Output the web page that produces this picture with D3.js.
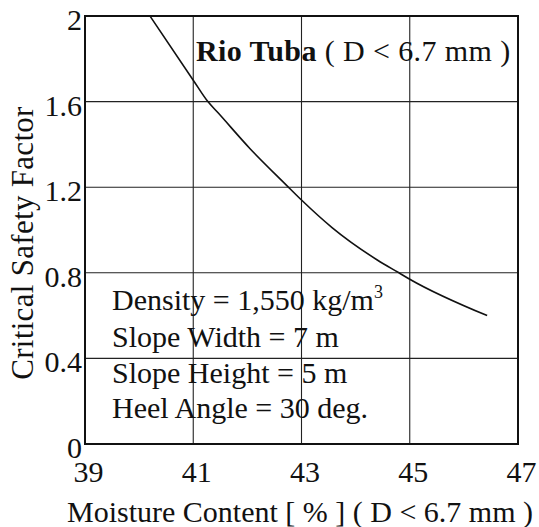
<!DOCTYPE html>
<html>
<head>
<meta charset="utf-8">
<script src="https://cdn.jsdelivr.net/npm/d3@7/dist/d3.min.js"></script>
<style>
  html, body { margin: 0; padding: 0; background: #fff; }
  svg text { font-family: "Liberation Serif", "Times New Roman", serif; fill: #111; }
</style>
</head>
<body>
<svg id="chart" width="539" height="527"></svg>
<script>
// Critical safety factor vs. moisture content, Rio Tuba ore (D < 6.7 mm)
const moisture = [40.20, 41.00, 41.27, 41.45, 42.05, 42.72, 43.00, 43.57, 44.40, 44.80, 45.00, 46.43];
const safetyFactor = [2.00, 1.70, 1.60, 1.55, 1.38, 1.21, 1.14, 1.01, 0.86, 0.80, 0.77, 0.60];

const xTicks = [39, 41, 43, 45, 47];
const yTicks = [0, 0.4, 0.8, 1.2, 1.6, 2];
const yTickLabels = ["0", "0.4", "0.8", "1.2", "1.6", "2"];

const conditions = [
  "Density = 1,550 kg/m",
  "Slope Width = 7 m",
  "Slope Height = 5 m",
  "Heel Angle = 30 deg."
];

const SERIF = '"Liberation Serif", "Times New Roman", serif';
const svg = d3.select("#chart");
const margin = { left: 85, top: 16, right: 21, bottom: 83 };
const W = 539, H = 527;
const iw = W - margin.left - margin.right;
const ih = H - margin.top - margin.bottom;

const x = d3.scaleLinear().domain([39, 47]).range([margin.left, margin.left + iw]);
const y = d3.scaleLinear().domain([0, 2]).range([margin.top + ih, margin.top]);

const FS = 30;

// grid lines
const grid = svg.append("g").attr("stroke", "#222").attr("stroke-width", 1.1);
grid.selectAll("line.v").data(xTicks.slice(1, -1)).join("line")
  .attr("x1", d => x(d)).attr("x2", d => x(d))
  .attr("y1", y(0)).attr("y2", y(2));
grid.selectAll("line.h").data(yTicks.slice(1, -1)).join("line")
  .attr("x1", x(39)).attr("x2", x(47))
  .attr("y1", d => y(d)).attr("y2", d => y(d));

// frame
svg.append("rect")
  .attr("x", x(39)).attr("y", y(2))
  .attr("width", x(47) - x(39)).attr("height", y(0) - y(2))
  .attr("fill", "none").attr("stroke", "#111").attr("stroke-width", 2);

// axes (labels only)
const xAxis = d3.axisBottom(x).tickValues(xTicks).tickSize(0).tickPadding(17)
  .tickFormat(d3.format("d"));
const gx = svg.append("g").attr("transform", `translate(0,${y(0)})`).call(xAxis)
  .attr("font-family", SERIF).attr("font-size", FS);
gx.select(".domain").remove();
gx.selectAll("text").attr("dx", 3).attr("fill", "#111");

const yAxis = d3.axisLeft(y).tickValues(yTicks).tickSize(0).tickPadding(3)
  .tickFormat((d, i) => yTickLabels[i]);
const gy = svg.append("g").attr("transform", `translate(${x(39)},0)`).call(yAxis)
  .attr("font-family", SERIF).attr("font-size", FS);
gy.select(".domain").remove();
gy.selectAll("text").attr("dy", "0.45em").attr("fill", "#111");

// curve
const line = d3.line()
  .x((d, i) => x(moisture[i]))
  .y((d, i) => y(safetyFactor[i]))
  .curve(d3.curveMonotoneX);
svg.append("path")
  .datum(moisture)
  .attr("d", line)
  .attr("fill", "none")
  .attr("stroke", "#111")
  .attr("stroke-width", 1.6);

// title inside plot
const title = svg.append("text")
  .attr("x", 196).attr("y", 61).attr("font-size", FS)
  .attr("letter-spacing", 0.4);
title.append("tspan").attr("font-weight", "bold").text("Rio Tuba");
title.append("tspan").text(" ( D < 6.7 mm )");

// test conditions
const cond = svg.append("g");
const baselines = [310, 347, 383, 418];
conditions.forEach((t, i) => {
  const tx = cond.append("text").attr("x", 112).attr("y", baselines[i]).attr("font-size", FS);
  tx.append("tspan").text(t);
  if (i === 0) {
    tx.append("tspan").attr("font-size", 18).attr("dy", -12).text("3");
  }
});

// axis titles
svg.append("text")
  .attr("x", 300).attr("y", 522)
  .attr("text-anchor", "middle").attr("font-size", FS)
  .text("Moisture Content [ % ] ( D < 6.7 mm )");

svg.append("text")
  .attr("transform", "translate(33,243) rotate(-90)")
  .attr("text-anchor", "middle").attr("font-size", 31)
  .attr("letter-spacing", 0.3)
  .text("Critical Safety Factor");
</script>
</body>
</html>
